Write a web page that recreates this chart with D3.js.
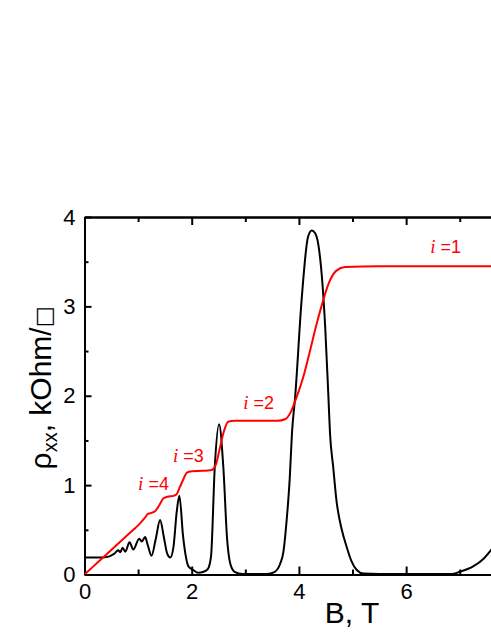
<!DOCTYPE html>
<html>
<head>
<meta charset="utf-8">
<script src="https://cdn.jsdelivr.net/npm/d3@7"></script>
<style>
  body { margin: 0; background: #fff; }
  svg { display: block; }
  .tick text { font-family: "Liberation Sans", Arial, sans-serif; fill: #000; }
</style>
</head>
<body>
<div id="chart"></div>
<script>
// black curve, B (T) and rho_xx (kOhm/sq)
var blackB = [0, 0.3, 0.45, 0.55, 0.63, 0.67, 0.71, 0.76, 0.84, 0.91, 1.02, 1.07, 1.13, 1.18, 1.25,
  1.33, 1.41, 1.48, 1.54, 1.60, 1.66, 1.72, 1.77, 1.84, 1.94, 2.03, 2.12, 2.22, 2.30, 2.36,
  2.43, 2.51, 2.59, 2.66, 2.72, 2.80, 2.95, 3.40, 3.55, 3.65, 3.71, 3.77, 3.83, 3.87, 3.93,
  4.05, 4.17, 4.24, 4.30, 4.36, 4.49, 4.55, 4.58, 4.64, 4.70, 4.80, 4.89, 4.98, 5.08, 5.20,
  5.50, 6.85, 7.00, 7.25, 7.45, 7.62];
var blackRho = [0.19, 0.19, 0.20, 0.23, 0.27, 0.25, 0.30, 0.255, 0.36, 0.28, 0.40, 0.37, 0.42, 0.33, 0.21,
  0.40, 0.61, 0.42, 0.24, 0.19, 0.31, 0.70, 0.88, 0.42, 0.09, 0.05, 0.02, 0.03, 0.06, 0.20,
  1.20, 1.68, 1.20, 0.40, 0.12, 0.03, 0.005, 0.005, 0.03, 0.12, 0.25, 0.60, 1.09, 1.58, 1.99,
  3.07, 3.78, 3.85, 3.82, 3.70, 2.77, 1.99, 1.58, 1.20, 0.83, 0.50, 0.31, 0.15, 0.05, 0.01,
  0.005, 0.005, 0.03, 0.09, 0.18, 0.30];

// red curve
var redB = [0, 0.3, 0.6, 0.91, 1.0, 1.12, 1.19, 1.25, 1.32, 1.40, 1.47, 1.55, 1.66, 1.72, 1.78,
  1.84, 1.91, 2.0, 2.2, 2.37, 2.45, 2.52, 2.60, 2.68, 2.8, 3.2, 3.6, 3.75, 3.85, 3.96,
  4.1, 4.21, 4.32, 4.42, 4.55, 4.70, 4.86, 5.5, 7.62];
var redRho = [0, 0.165, 0.33, 0.50, 0.55, 0.63, 0.68, 0.69, 0.71, 0.78, 0.85, 0.87, 0.88, 0.90, 0.98,
  1.06, 1.14, 1.155, 1.16, 1.17, 1.23, 1.40, 1.60, 1.71, 1.72, 1.72, 1.72, 1.74, 1.82, 1.99,
  2.25, 2.51, 2.78, 3.00, 3.25, 3.40, 3.44, 3.45, 3.45];

// filling factor labels
var labelNum = ["4", "3", "2", "1"];
var labelB = [1.0, 1.65, 2.96, 6.45];
var labelRho = [0.945, 1.26, 1.85, 3.60];

var xMajor = [0, 2, 4, 6];
var xMinor = [1, 3, 5, 7];
var yMajor = [0, 1, 2, 3, 4];
var yMinor = [0.5, 1.5, 2.5, 3.5];

var width = 491, height = 635;
var mLeft = 84.5, mTop = 217, mBottom = 574.5, mRight = 491.9;

var svg = d3.select("#chart").append("svg")
  .attr("width", width)
  .attr("height", height);

var x = d3.scaleLinear().domain([0, 7.6]).range([mLeft, mRight]);
var y = d3.scaleLinear().domain([0, 4]).range([mBottom, mTop]);

svg.append("clipPath").attr("id", "plotclip")
  .append("rect")
  .attr("x", mLeft).attr("y", mTop - 2)
  .attr("width", mRight - mLeft).attr("height", mBottom - mTop + 2);

function styleAxis(g) {
  g.select(".domain").attr("stroke", "#000").attr("stroke-width", 2);
  g.selectAll(".tick line").attr("stroke", "#000").attr("stroke-width", 2);
}

// bottom axis, ticks inward
svg.append("g")
  .attr("transform", "translate(0," + mBottom + ")")
  .call(d3.axisBottom(x).tickValues(xMajor).tickSize(-8).tickSizeOuter(0).tickPadding(9).tickFormat(d3.format("d")))
  .call(styleAxis)
  .call(function(g) { g.selectAll(".tick text").attr("font-size", 22); });
svg.append("g")
  .attr("transform", "translate(0," + mBottom + ")")
  .call(d3.axisBottom(x).tickValues(xMinor).tickSize(-5).tickSizeOuter(0).tickFormat(""))
  .call(styleAxis);

// top axis
svg.append("g")
  .attr("transform", "translate(0," + mTop + ")")
  .call(d3.axisTop(x).tickValues(xMajor).tickSize(-8).tickSizeOuter(0).tickFormat(""))
  .call(styleAxis);
svg.append("g")
  .attr("transform", "translate(0," + mTop + ")")
  .call(d3.axisTop(x).tickValues(xMinor).tickSize(-5).tickSizeOuter(0).tickFormat(""))
  .call(styleAxis);

// left axis
svg.append("g")
  .attr("transform", "translate(" + mLeft + ",0)")
  .call(d3.axisLeft(y).tickValues(yMajor).tickSize(-7).tickSizeOuter(0).tickPadding(9).tickFormat(d3.format("d")))
  .call(styleAxis)
  .call(function(g) { g.selectAll(".tick text").attr("font-size", 22); });
svg.append("g")
  .attr("transform", "translate(" + mLeft + ",0)")
  .call(d3.axisLeft(y).tickValues(yMinor).tickSize(-4).tickSizeOuter(0).tickFormat(""))
  .call(styleAxis);

var line = d3.line()
  .x(function(d) { return x(d[0]); })
  .y(function(d) { return y(d[1]); })
  .curve(d3.curveMonotoneX);

var plot = svg.append("g").attr("clip-path", "url(#plotclip)");

plot.append("path")
  .datum(d3.zip(blackB, blackRho))
  .attr("d", line)
  .attr("fill", "none")
  .attr("stroke", "#000")
  .attr("stroke-width", 2);

plot.append("path")
  .datum(d3.zip(redB, redRho))
  .attr("d", line)
  .attr("fill", "none")
  .attr("stroke", "#ff0000")
  .attr("stroke-width", 2);

// labels i = n
var labs = svg.selectAll(".ilabel")
  .data(d3.range(labelNum.length))
  .enter()
  .append("text")
  .attr("class", "ilabel")
  .attr("x", function(i) { return x(labelB[i]); })
  .attr("y", function(i) { return y(labelRho[i]); })
  .attr("fill", "#ff0000")
  .attr("font-size", 18)
  .attr("font-family", "Liberation Sans, Arial, sans-serif");
labs.append("tspan")
  .attr("font-family", "Liberation Serif, Times New Roman, serif")
  .attr("font-style", "italic")
  .attr("font-size", 19)
  .text("i");
labs.append("tspan")
  .text(function(i) { return " =" + labelNum[i]; });

// axis titles
svg.append("text")
  .attr("x", 352)
  .attr("y", 623)
  .attr("text-anchor", "middle")
  .attr("font-family", "Liberation Sans, Arial, sans-serif")
  .attr("font-size", 30)
  .text("B, T");

var ylab = svg.append("text")
  .attr("transform", "translate(51,388) rotate(-90)")
  .attr("text-anchor", "middle")
  .attr("font-family", "Liberation Sans, Arial, sans-serif")
  .attr("font-size", 30);
ylab.append("tspan").text("ρ");
ylab.append("tspan").attr("font-size", 20).attr("dy", 6).text("xx");
ylab.append("tspan").attr("dy", -6).text(", kOhm/");
ylab.append("tspan").attr("font-size", 22).attr("font-family", "DejaVu Sans").text("□");
</script>
</body>
</html>
